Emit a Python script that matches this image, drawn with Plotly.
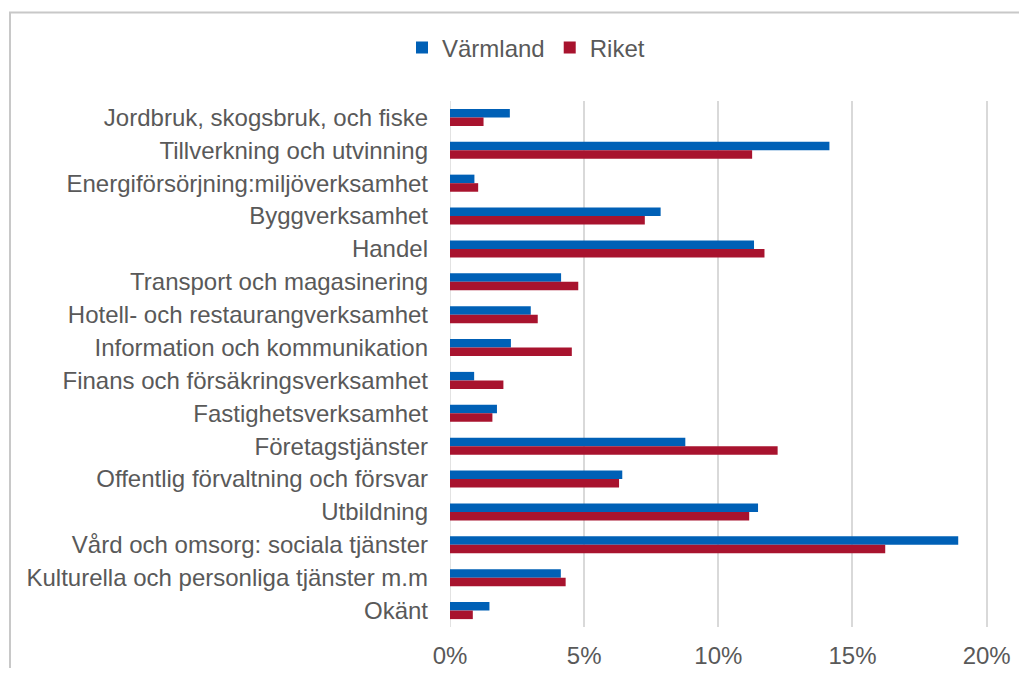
import plotly.graph_objects as go

categories = [
    "Jordbruk, skogsbruk, och fiske",
    "Tillverkning och utvinning",
    "Energiförsörjning:miljöverksamhet",
    "Byggverksamhet",
    "Handel",
    "Transport och magasinering",
    "Hotell- och restaurangverksamhet",
    "Information och kommunikation",
    "Finans och försäkringsverksamhet",
    "Fastighetsverksamhet",
    "Företagstjänster",
    "Offentlig förvaltning och försvar",
    "Utbildning",
    "Vård och omsorg: sociala tjänster",
    "Kulturella och personliga tjänster m.m",
    "Okänt",
]
varmland = [0.0223, 0.1414, 0.0091, 0.0785, 0.1133, 0.0414, 0.0301, 0.0227,
            0.0090, 0.0175, 0.0877, 0.0642, 0.1148, 0.1894, 0.0413, 0.0147]
riket = [0.0125, 0.1126, 0.0105, 0.0726, 0.1172, 0.0478, 0.0327, 0.0454,
         0.0199, 0.0158, 0.1221, 0.0630, 0.1115, 0.1622, 0.0431, 0.0085]
series_names = ["Värmland", "Riket"]
tick_vals = [0, 0.05, 0.10, 0.15, 0.20]

BLUE = "#0060B6"
RED = "#A8132E"
TXT = "#595959"
FONT = "Liberation Sans, Arial, sans-serif"
FS = 24

fig = go.Figure()
fig.add_trace(go.Bar(y=categories, x=varmland, name=series_names[0], orientation="h",
                     marker=dict(color=BLUE, line=dict(width=0))))
fig.add_trace(go.Bar(y=categories, x=riket, name=series_names[1], orientation="h",
                     marker=dict(color=RED, line=dict(width=0))))

# page has an 8px body margin; figure coordinates below are page - 8
OFF = 8
W, H = 1027 - 2 * OFF, 676 - 2 * OFF
L, R, T, B = 450 - OFF, 988 - OFF, 101 - OFF, 627 - OFF

def px_x(p):
    return (p - OFF - L) / (R - L)

def px_y(p):
    return (B - (p - OFF)) / (B - T)

fig.add_shape(type="rect", xref="paper", yref="paper",
              x0=px_x(10), x1=px_x(1100), y0=px_y(760), y1=px_y(12.5),
              line=dict(color="#c8c8c8", width=2), fillcolor="rgba(0,0,0,0)", layer="below")

fig.update_layout(
    width=W, height=H,
    margin=dict(l=L, r=W - R, t=T, b=H - B, autoexpand=False),
    paper_bgcolor="white", plot_bgcolor="white",
    barmode="group", bargap=0.48, bargroupgap=0,
    font=dict(family=FONT, size=FS, color=TXT),
    showlegend=True,
    legend=dict(orientation="h", x=px_x(526), xanchor="center", y=px_y(48), yanchor="middle",
                font=dict(size=FS, color=TXT), traceorder="normal",
                itemwidth=30, bgcolor="rgba(0,0,0,0)"),
    xaxis=dict(range=[0, 0.2005], tickvals=tick_vals, tickformat=".0%",
               showgrid=True, gridcolor="#d9d9d9", gridwidth=1.5,
               zeroline=False, showline=False, ticks="", ticklabelstandoff=12,
               tickfont=dict(size=FS, color=TXT), fixedrange=True),
    yaxis=dict(autorange="reversed", showgrid=False, zeroline=False, showline=False,
               ticks="", ticklabelstandoff=21, tickfont=dict(size=FS, color=TXT)),
)
fig.add_shape(type="line", xref="x", yref="paper", x0=0, x1=0, y0=0, y1=1,
              line=dict(color="#d9d9d9", width=1.5), layer="below")

fig.write_html("out.html")
